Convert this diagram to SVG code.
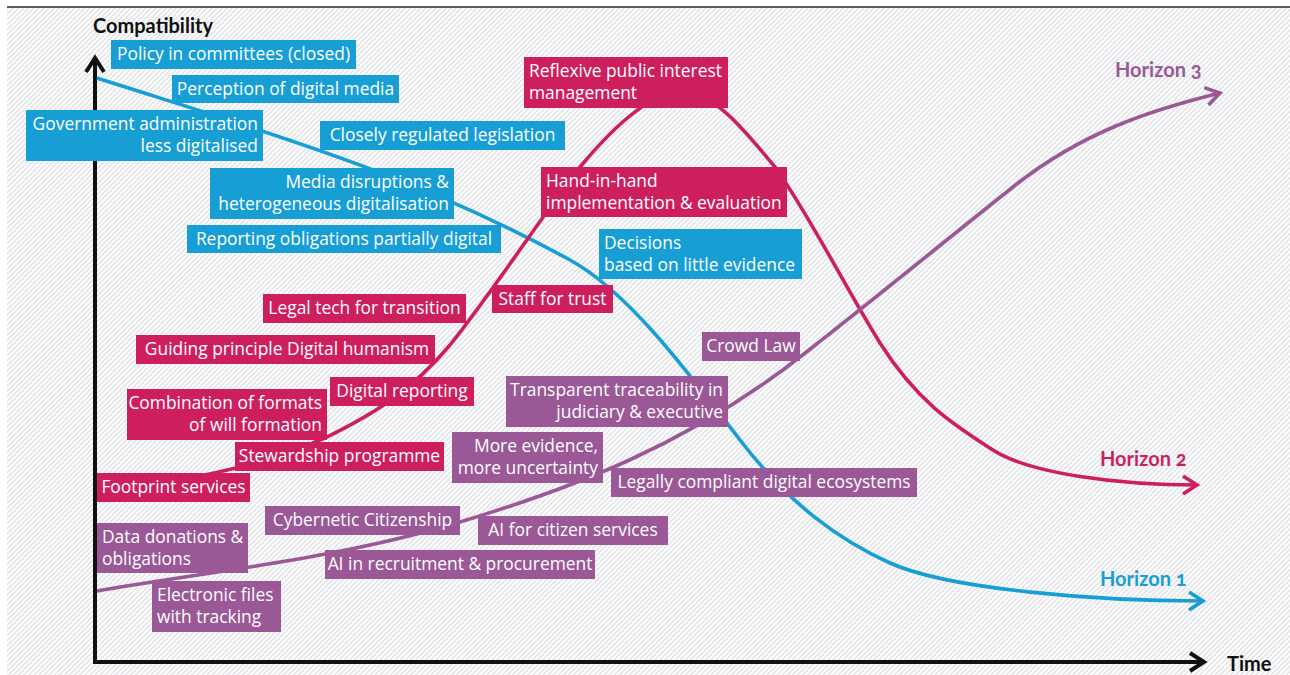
<svg xmlns="http://www.w3.org/2000/svg" width="1290" height="675" viewBox="0 0 1290 675">
  <defs>
    <!-- light diagonal hatching behind the chart -->
    <pattern id="hatch" patternUnits="userSpaceOnUse" width="3.6" height="10" patternTransform="rotate(45)">
      <rect x="0" y="0" width="3.6" height="10" fill="#ffffff"/>
      <rect x="0" y="0" width="1.7" height="10" fill="#e4e5e8"/>
    </pattern>
    <marker id="tipBlue" markerUnits="userSpaceOnUse" viewBox="-20 -15 30 30" markerWidth="30" markerHeight="30" refX="0" refY="0" orient="auto">
      <path d="M-14,-9 L0,0 L-14,9" fill="none" stroke="#179ed5" stroke-width="3.6"/>
    </marker>
    <marker id="tipRed" markerUnits="userSpaceOnUse" viewBox="-20 -15 30 30" markerWidth="30" markerHeight="30" refX="0" refY="0" orient="auto">
      <path d="M-14,-9 L0,0 L-14,9" fill="none" stroke="#cd1f5e" stroke-width="3.6"/>
    </marker>
    <marker id="tipPurple" markerUnits="userSpaceOnUse" viewBox="-20 -15 30 30" markerWidth="30" markerHeight="30" refX="0" refY="0" orient="auto">
      <path d="M-14,-9 L0,0 L-14,9" fill="none" stroke="#9a5897" stroke-width="3.6"/>
    </marker>
    <style>
      .lbl { font-family: "Open Sans", Lato, "Liberation Sans", sans-serif; font-size: 17.4px; fill: #ffffff; }
      .end { text-anchor: end; }
      .mid { text-anchor: middle; }
      .b { fill: #179ed5; }
      .r { fill: #cd1f5e; }
      .p { fill: #9a5897; }
      .axis-title { font-family: Lato, "Liberation Sans", sans-serif; font-size: 20px; font-weight: 700; fill: #111111; }
      .hz { font-family: Lato, "Liberation Sans", sans-serif; font-size: 20px; font-weight: 700; font-variant-numeric: oldstyle-nums; }
      .curve { fill: none; stroke-width: 3.6; }
    </style>
  </defs>

  <!-- background -->
  <rect x="0" y="0" width="1290" height="675" fill="#ffffff"/>
  <rect x="7" y="8" width="1283" height="667" fill="url(#hatch)"/>
  <line x1="7" y1="7" x2="1290" y2="7" stroke="#2a2a2a" stroke-width="1.6"/>

  <!-- axes -->
  <g id="axes" fill="none" stroke="#111111" stroke-width="4">
    <path d="M95,59 L95,662 L1204,662" stroke-linejoin="miter"/>
    <path d="M86,72 L95,58 L104,72"/>
    <path d="M1190,653 L1204,662 L1190,671"/>
  </g>
  <text class="axis-title" x="93" y="33">Compatibility</text>
  <text class="axis-title" x="1227" y="671">Time</text>

  <!-- horizon curves -->
  <g id="connectors">
    <path id="horizon1-curve" class="curve" stroke="#179ed5" marker-end="url(#tipBlue)"
      d="M97,78 C255,128.6 412,173 570,260 C626.7,291 683.3,366 740,440 C790,505 840,540.5 890,563 C950,590 1100,601 1203,601"/>
    <path id="horizon2-curve" class="curve" stroke="#cd1f5e" marker-end="url(#tipRed)"
      d="M97,490 C174,482 250,471.6 327,437 C368,416.5 409,394 450,345 C493,291 537,223 580,167 C605,137 647,92 681,92 C715,92 745,131 775,167 C810,216 845,287 880,343 C918,403 955,425.5 993,450 C1030,474 1120,485 1197,485"/>
    <path id="horizon3-curve" class="curve" stroke="#9a5897" marker-end="url(#tipPurple)"
      d="M97,591 C218,570.4 339,558.3 460,522 C573,488 687,445 800,357 C871,301.6 942,243.4 1013,187 C1082,132 1151,110 1220,93"/>
  </g>

  <text class="hz" x="1115" y="77" fill="#9a5897">Horizon 3</text>
  <text class="hz" x="1100" y="466" fill="#cd1f5e">Horizon 2</text>
  <text class="hz" x="1100" y="586" fill="#179ed5">Horizon 1</text>

  <!-- Horizon 1 items -->
  <g id="policy-committees"><rect class="b" x="111" y="40" width="245" height="29"/><text class="lbl mid" x="233.5" y="60">Policy in committees (closed)</text></g>
  <g id="perception-media"><rect class="b" x="172" y="75" width="227" height="28"/><text class="lbl mid" x="285.5" y="95">Perception of digital media</text></g>
  <g id="government-admin"><rect class="b" x="26" y="110" width="237" height="51"/><text class="lbl end" y="130"><tspan x="258">Government administration</tspan><tspan x="258" dy="22">less digitalised</tspan></text></g>
  <g id="regulated-legislation"><rect class="b" x="320" y="121" width="245" height="29"/><text class="lbl mid" x="442.5" y="141">Closely regulated legislation</text></g>
  <g id="media-disruptions"><rect class="b" x="210" y="168" width="244" height="51"/><text class="lbl end" y="188"><tspan x="449">Media disruptions &amp;</tspan><tspan x="449" dy="22">heterogeneous digitalisation</tspan></text></g>
  <g id="reporting-obligations"><rect class="b" x="187" y="225" width="314" height="28"/><text class="lbl mid" x="344" y="245">Reporting obligations partially digital</text></g>
  <g id="decisions-evidence"><rect class="b" x="599" y="229" width="203" height="50"/><text class="lbl" y="249"><tspan x="604">Decisions</tspan><tspan x="604" dy="22">based on little evidence</tspan></text></g>

  <!-- Horizon 2 items -->
  <g id="reflexive-interest"><rect class="r" x="524" y="57" width="204" height="51"/><text class="lbl" y="77"><tspan x="529">Reflexive public interest</tspan><tspan x="529" dy="22">management</tspan></text></g>
  <g id="hand-in-hand"><rect class="r" x="541" y="167" width="246" height="50"/><text class="lbl" y="187"><tspan x="546">Hand-in-hand</tspan><tspan x="546" dy="22">implementation &amp; evaluation</tspan></text></g>
  <g id="legal-tech"><rect class="r" x="263" y="294" width="203" height="29"/><text class="lbl mid" x="364.5" y="314">Legal tech for transition</text></g>
  <g id="staff-trust"><rect class="r" x="492" y="285" width="121" height="28"/><text class="lbl mid" x="552.5" y="305">Staff for trust</text></g>
  <g id="digital-humanism"><rect class="r" x="136" y="335" width="299" height="29"/><text class="lbl mid" x="287" y="355">Guiding principle Digital humanism</text></g>
  <g id="digital-reporting"><rect class="r" x="330" y="377" width="144" height="29"/><text class="lbl mid" x="402" y="397">Digital reporting</text></g>
  <g id="combination-formats"><rect class="r" x="127" y="389" width="200" height="51"/><text class="lbl end" y="409"><tspan x="322">Combination of formats</tspan><tspan x="322" dy="22">of will formation</tspan></text></g>
  <g id="stewardship"><rect class="r" x="235" y="442" width="209" height="29"/><text class="lbl mid" x="339.5" y="462">Stewardship programme</text></g>
  <g id="footprint"><rect class="r" x="97" y="473" width="153" height="29"/><text class="lbl mid" x="173.5" y="493">Footprint services</text></g>

  <!-- Horizon 3 items -->
  <g id="crowd-law"><rect class="p" x="702" y="332" width="98" height="29"/><text class="lbl mid" x="751" y="352">Crowd Law</text></g>
  <g id="transparent-traceability"><rect class="p" x="506" y="376" width="222" height="51"/><text class="lbl end" y="396"><tspan x="723">Transparent traceability in</tspan><tspan x="723" dy="22">judiciary &amp; executive</tspan></text></g>
  <g id="more-evidence"><rect class="p" x="452" y="432" width="151" height="51"/><text class="lbl end" y="452"><tspan x="598">More evidence,</tspan><tspan x="598" dy="22">more uncertainty</tspan></text></g>
  <g id="compliant-ecosystems"><rect class="p" x="611" y="468" width="306" height="29"/><text class="lbl mid" x="764" y="488">Legally compliant digital ecosystems</text></g>
  <g id="cybernetic-citizenship"><rect class="p" x="265" y="506" width="195" height="29"/><text class="lbl mid" x="362.5" y="526">Cybernetic Citizenship</text></g>
  <g id="ai-citizen-services"><rect class="p" x="478" y="516" width="190" height="29"/><text class="lbl mid" x="573" y="536">AI for citizen services</text></g>
  <g id="data-donations"><rect class="p" x="97" y="523" width="151" height="50"/><text class="lbl" y="543"><tspan x="102">Data donations &amp;</tspan><tspan x="102" dy="22">obligations</tspan></text></g>
  <g id="ai-recruitment"><rect class="p" x="325" y="550" width="270" height="29"/><text class="lbl mid" x="460" y="570">AI in recruitment &amp; procurement</text></g>
  <g id="electronic-files"><rect class="p" x="152" y="581" width="129" height="51"/><text class="lbl" y="601"><tspan x="157">Electronic files</tspan><tspan x="157" dy="22">with tracking</tspan></text></g>
</svg>
